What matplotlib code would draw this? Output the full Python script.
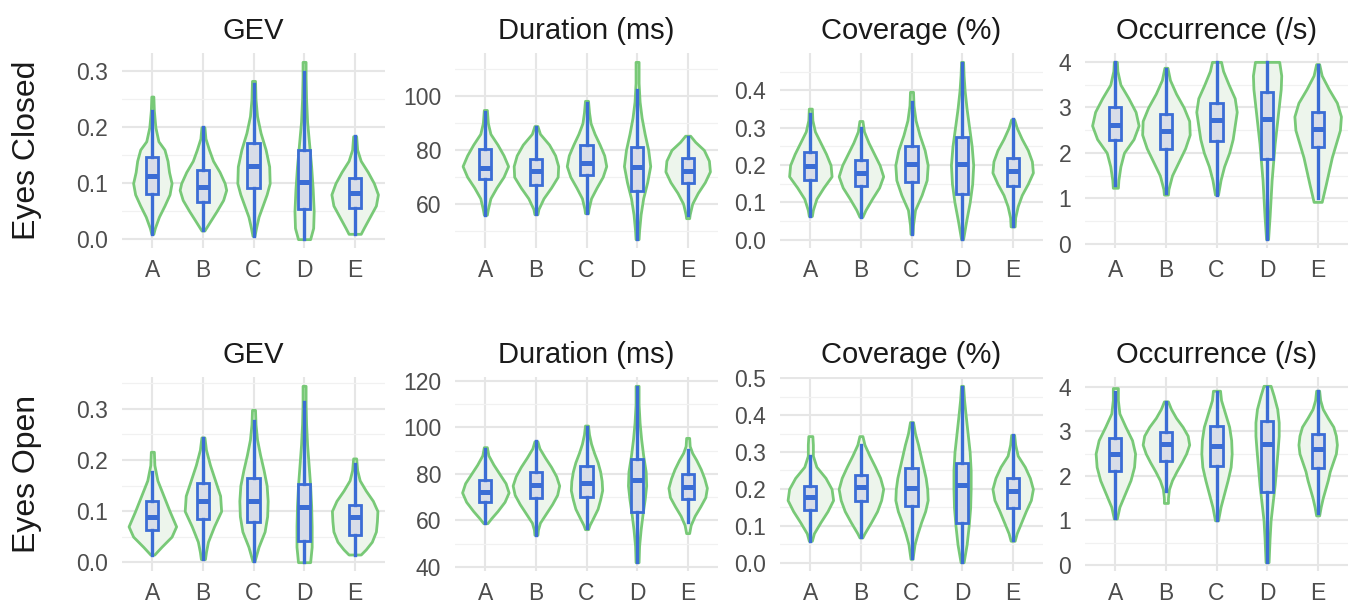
import numpy as np
import matplotlib
matplotlib.use('Agg')
import matplotlib.pyplot as plt
from matplotlib.ticker import MultipleLocator, FormatStrFormatter

plt.rcParams['font.family'] = ['Liberation Sans', 'DejaVu Sans']

categories = ['A', 'B', 'C', 'D', 'E']
row_labels = ['Eyes Closed', 'Eyes Open']
titles = ['GEV', 'Duration (ms)', 'Coverage (%)', 'Occurrence (/s)']

# violin outline: y levels (top -> bottom) and half width at each level
# box: [whisker low, q1, median, q3, whisker high]

# GEV, eyes closed
gev_ec_y = [
    [0.255, 0.23, 0.20, 0.175, 0.16, 0.14, 0.12, 0.10, 0.08, 0.06, 0.04, 0.02, 0.0095],
    [0.200, 0.18, 0.16, 0.14, 0.12, 0.10, 0.088, 0.07, 0.05, 0.03, 0.0155],
    [0.283, 0.25, 0.22, 0.19, 0.16, 0.13, 0.10, 0.08, 0.06, 0.04, 0.02, 0.006],
    [0.317, 0.29, 0.25, 0.21, 0.17, 0.13, 0.09, 0.05, 0.02, 0.0],
    [0.184, 0.16, 0.14, 0.12, 0.10, 0.08, 0.06, 0.04, 0.02, 0.0095],
]
gev_ec_w = [
    [0.02, 0.03, 0.06, 0.12, 0.24, 0.30, 0.33, 0.38, 0.34, 0.24, 0.13, 0.05, 0.02],
    [0.03, 0.05, 0.12, 0.20, 0.33, 0.43, 0.46, 0.40, 0.27, 0.13, 0.03],
    [0.03, 0.04, 0.07, 0.14, 0.24, 0.31, 0.32, 0.26, 0.18, 0.10, 0.05, 0.02],
    [0.03, 0.03, 0.04, 0.06, 0.10, 0.14, 0.17, 0.19, 0.18, 0.12],
    [0.03, 0.05, 0.12, 0.26, 0.38, 0.46, 0.42, 0.30, 0.18, 0.12],
]
gev_ec_box = [
    [0.0095, 0.081, 0.113, 0.146, 0.229],
    [0.0155, 0.067, 0.093, 0.124, 0.200],
    [0.006, 0.091, 0.131, 0.172, 0.278],
    [0.0, 0.0535, 0.103, 0.160, 0.299],
    [0.0095, 0.055, 0.082, 0.109, 0.184],
]

# Duration, eyes closed
dur_ec_y = [
    [94.9, 90, 86, 82, 78, 74, 70, 66, 62, 58, 55.9],
    [88.9, 86, 82, 78, 74, 70, 66, 62, 58, 56.1],
    [98.3, 94, 90, 86, 82, 78, 74, 70, 66, 62, 58, 56.5],
    [112.8, 105, 98, 92, 86, 80, 74, 68, 62, 56, 50, 46.8],
    [85.3, 83, 80, 76, 72, 68, 64, 60, 56, 54.6],
]
dur_ec_w = [
    [0.03, 0.05, 0.10, 0.24, 0.36, 0.45, 0.36, 0.22, 0.10, 0.05, 0.03],
    [0.03, 0.08, 0.26, 0.38, 0.44, 0.43, 0.30, 0.15, 0.05, 0.03],
    [0.03, 0.05, 0.08, 0.16, 0.26, 0.35, 0.39, 0.32, 0.20, 0.09, 0.04, 0.03],
    [0.03, 0.03, 0.05, 0.09, 0.15, 0.22, 0.26, 0.20, 0.12, 0.07, 0.04, 0.03],
    [0.05, 0.15, 0.32, 0.42, 0.44, 0.34, 0.20, 0.09, 0.04, 0.03],
]
dur_ec_box = [
    [55.9, 69.1, 73.4, 80.4, 94.2],
    [56.1, 67.1, 72.2, 76.5, 88.4],
    [56.5, 70.6, 75.3, 81.9, 97.3],
    [46.8, 64.9, 73.8, 81.2, 102.3],
    [55.9, 67.6, 72.2, 76.9, 85.0],
]

# Coverage, eyes closed
cov_ec_y = [
    [0.351, 0.32, 0.29, 0.26, 0.23, 0.20, 0.17, 0.14, 0.11, 0.08, 0.064],
    [0.318, 0.29, 0.26, 0.23, 0.20, 0.17, 0.14, 0.11, 0.08, 0.062],
    [0.396, 0.36, 0.32, 0.28, 0.24, 0.20, 0.16, 0.12, 0.08, 0.04, 0.016],
    [0.476, 0.44, 0.40, 0.35, 0.30, 0.25, 0.20, 0.15, 0.10, 0.05, 0.002],
    [0.322, 0.30, 0.27, 0.24, 0.21, 0.18, 0.15, 0.12, 0.09, 0.06, 0.036],
]
cov_ec_w = [
    [0.03, 0.04, 0.09, 0.20, 0.31, 0.40, 0.42, 0.26, 0.12, 0.05, 0.03],
    [0.03, 0.06, 0.15, 0.26, 0.37, 0.44, 0.36, 0.22, 0.09, 0.03],
    [0.03, 0.04, 0.08, 0.16, 0.26, 0.32, 0.30, 0.20, 0.07, 0.03, 0.02],
    [0.02, 0.03, 0.05, 0.09, 0.14, 0.19, 0.22, 0.20, 0.15, 0.08, 0.02],
    [0.03, 0.08, 0.18, 0.30, 0.38, 0.40, 0.30, 0.18, 0.10, 0.05, 0.04],
]
cov_ec_box = [
    [0.064, 0.160, 0.197, 0.236, 0.336],
    [0.062, 0.145, 0.180, 0.213, 0.298],
    [0.016, 0.156, 0.203, 0.252, 0.369],
    [0.002, 0.124, 0.203, 0.276, 0.473],
    [0.037, 0.144, 0.184, 0.218, 0.322],
]

# Occurrence, eyes closed
occ_ec_y = [
    [4.0, 3.8, 3.5, 3.2, 2.9, 2.6, 2.3, 2.0, 1.7, 1.4, 1.23],
    [3.87, 3.6, 3.3, 3.0, 2.7, 2.4, 2.1, 1.8, 1.5, 1.2, 1.08],
    [4.0, 3.8, 3.5, 3.2, 2.9, 2.6, 2.3, 2.0, 1.7, 1.4, 1.08],
    [4.0, 3.7, 3.4, 3.0, 2.6, 2.2, 1.8, 1.4, 1.0, 0.6, 0.1],
    [3.95, 3.7, 3.4, 3.1, 2.8, 2.5, 2.2, 1.9, 1.6, 1.3, 0.92],
]
occ_ec_w = [
    [0.03, 0.04, 0.10, 0.26, 0.40, 0.46, 0.36, 0.17, 0.10, 0.06, 0.05],
    [0.03, 0.08, 0.20, 0.35, 0.46, 0.47, 0.38, 0.25, 0.12, 0.05, 0.04],
    [0.09, 0.13, 0.24, 0.36, 0.40, 0.36, 0.32, 0.25, 0.15, 0.08, 0.03],
    [0.24, 0.28, 0.27, 0.23, 0.19, 0.15, 0.12, 0.09, 0.07, 0.05, 0.02],
    [0.03, 0.08, 0.22, 0.38, 0.46, 0.44, 0.36, 0.28, 0.22, 0.16, 0.08],
]
occ_ec_box = [
    [1.30, 2.29, 2.62, 3.01, 4.00],
    [1.12, 2.09, 2.48, 2.85, 3.84],
    [1.08, 2.26, 2.72, 3.10, 4.00],
    [0.10, 1.87, 2.75, 3.34, 4.00],
    [1.01, 2.12, 2.53, 2.90, 3.93],
]

# GEV, eyes open
gev_eo_y = [
    [0.216, 0.19, 0.16, 0.13, 0.10, 0.07, 0.05, 0.03, 0.015],
    [0.244, 0.22, 0.19, 0.16, 0.13, 0.10, 0.07, 0.04, 0.02, 0.006],
    [0.298, 0.27, 0.24, 0.21, 0.18, 0.15, 0.12, 0.09, 0.06, 0.03, 0.002],
    [0.345, 0.31, 0.27, 0.23, 0.19, 0.15, 0.11, 0.07, 0.03, 0.0],
    [0.203, 0.18, 0.16, 0.14, 0.12, 0.10, 0.08, 0.06, 0.04, 0.025, 0.015],
]
gev_eo_w = [
    [0.03, 0.04, 0.10, 0.22, 0.34, 0.47, 0.38, 0.18, 0.04],
    [0.03, 0.06, 0.14, 0.24, 0.34, 0.36, 0.22, 0.10, 0.06, 0.04],
    [0.03, 0.04, 0.07, 0.13, 0.20, 0.26, 0.28, 0.27, 0.22, 0.10, 0.02],
    [0.03, 0.03, 0.04, 0.06, 0.09, 0.12, 0.14, 0.15, 0.15, 0.12],
    [0.03, 0.05, 0.10, 0.22, 0.36, 0.45, 0.44, 0.42, 0.34, 0.22, 0.12],
]
gev_eo_box = [
    [0.015, 0.062, 0.089, 0.119, 0.177],
    [0.006, 0.084, 0.119, 0.154, 0.242],
    [0.002, 0.078, 0.119, 0.164, 0.277],
    [0.0, 0.041, 0.108, 0.153, 0.313],
    [0.015, 0.054, 0.088, 0.112, 0.193],
]

# Duration, eyes open
dur_eo_y = [
    [91.5, 88, 84, 80, 76, 72, 68, 64, 61, 58.8],
    [94.0, 91, 87, 83, 79, 75, 71, 67, 63, 59, 56, 53.8],
    [100.8, 97, 93, 89, 85, 81, 77, 73, 69, 65, 61, 58, 56.2],
    [117.9, 110, 102, 95, 88, 81, 75, 69, 63, 56, 49, 42],
    [95.5, 92, 89, 86, 82, 78, 74, 70, 66, 62, 58, 54.5],
]
dur_eo_w = [
    [0.03, 0.06, 0.16, 0.28, 0.40, 0.46, 0.38, 0.24, 0.12, 0.04],
    [0.03, 0.07, 0.18, 0.30, 0.40, 0.46, 0.42, 0.32, 0.20, 0.08, 0.04, 0.03],
    [0.03, 0.05, 0.09, 0.15, 0.22, 0.27, 0.30, 0.31, 0.27, 0.22, 0.13, 0.06, 0.03],
    [0.03, 0.03, 0.05, 0.08, 0.12, 0.17, 0.18, 0.15, 0.11, 0.07, 0.04, 0.03],
    [0.03, 0.04, 0.09, 0.17, 0.26, 0.33, 0.38, 0.35, 0.25, 0.14, 0.06, 0.03],
]
dur_eo_box = [
    [58.8, 68.0, 72.3, 77.3, 90.8],
    [53.8, 69.5, 75.4, 80.9, 94.0],
    [56.7, 69.9, 75.9, 83.3, 100.1],
    [42.0, 63.8, 77.3, 86.4, 117.4],
    [59.2, 69.0, 74.2, 79.9, 90.1],
]

# Coverage, eyes open
cov_eo_y = [
    [0.343, 0.32, 0.29, 0.26, 0.23, 0.20, 0.17, 0.14, 0.11, 0.08, 0.06],
    [0.343, 0.32, 0.29, 0.26, 0.23, 0.20, 0.17, 0.14, 0.11, 0.08, 0.069],
    [0.381, 0.35, 0.32, 0.29, 0.26, 0.23, 0.20, 0.17, 0.14, 0.11, 0.08, 0.05, 0.011],
    [0.479, 0.44, 0.40, 0.35, 0.30, 0.25, 0.20, 0.15, 0.10, 0.05, 0.002],
    [0.346, 0.32, 0.29, 0.26, 0.23, 0.20, 0.17, 0.14, 0.11, 0.08, 0.06],
]
cov_eo_w = [
    [0.04, 0.05, 0.05, 0.12, 0.30, 0.42, 0.45, 0.34, 0.20, 0.07, 0.03],
    [0.03, 0.07, 0.17, 0.28, 0.38, 0.44, 0.40, 0.32, 0.20, 0.07, 0.03],
    [0.03, 0.07, 0.13, 0.18, 0.23, 0.28, 0.31, 0.32, 0.27, 0.19, 0.12, 0.06, 0.02],
    [0.02, 0.04, 0.07, 0.11, 0.15, 0.17, 0.17, 0.16, 0.13, 0.09, 0.03],
    [0.03, 0.05, 0.10, 0.24, 0.34, 0.40, 0.36, 0.26, 0.17, 0.08, 0.04],
]
cov_eo_box = [
    [0.060, 0.143, 0.179, 0.209, 0.289],
    [0.069, 0.167, 0.204, 0.238, 0.319],
    [0.013, 0.155, 0.203, 0.256, 0.379],
    [0.002, 0.107, 0.212, 0.270, 0.477],
    [0.062, 0.149, 0.194, 0.229, 0.346],
]

# Occurrence, eyes open
occ_eo_y = [
    [3.97, 3.7, 3.4, 3.1, 2.8, 2.5, 2.2, 1.9, 1.6, 1.3, 1.04],
    [3.67, 3.5, 3.3, 3.1, 2.9, 2.7, 2.5, 2.3, 2.1, 1.9, 1.7, 1.5, 1.39],
    [3.91, 3.7, 3.4, 3.1, 2.8, 2.5, 2.2, 1.9, 1.6, 1.3, 1.0],
    [4.02, 3.8, 3.5, 3.2, 2.9, 2.6, 2.2, 1.8, 1.4, 1.0, 0.6, 0.06],
    [3.91, 3.7, 3.5, 3.3, 3.1, 2.9, 2.7, 2.5, 2.3, 2.1, 1.9, 1.7, 1.5, 1.3, 1.11],
]
occ_eo_w = [
    [0.05, 0.05, 0.08, 0.20, 0.33, 0.39, 0.37, 0.30, 0.19, 0.08, 0.03],
    [0.04, 0.10, 0.20, 0.33, 0.43, 0.46, 0.40, 0.31, 0.21, 0.12, 0.06, 0.04, 0.04],
    [0.07, 0.09, 0.17, 0.25, 0.29, 0.30, 0.28, 0.22, 0.15, 0.08, 0.03],
    [0.07, 0.13, 0.20, 0.23, 0.23, 0.21, 0.18, 0.15, 0.11, 0.07, 0.05, 0.03],
    [0.03, 0.05, 0.10, 0.20, 0.31, 0.36, 0.38, 0.36, 0.30, 0.24, 0.20, 0.15, 0.10, 0.06, 0.03],
]
occ_eo_box = [
    [1.06, 2.10, 2.50, 2.84, 3.87],
    [1.65, 2.34, 2.71, 2.99, 3.65],
    [1.00, 2.21, 2.67, 3.11, 3.89],
    [0.07, 1.63, 2.71, 3.24, 4.00],
    [1.17, 2.17, 2.60, 2.93, 3.91],
]

GREEN = '#78c977'
GREEN_FILL = '#edf5ec'
BLUE = '#3b6dd5'
BOX_FILL = '#d8dde8'
GRID = '#e6e6e6'
TEXT_GREY = '#4d4d4d'


def draw_panel(ax, ys, ws, boxes, title, step, fmt):
    pos = np.arange(1, len(categories) + 1)
    vstats = []
    for y, w, b in zip(ys, ws, boxes):
        vstats.append({'coords': np.array(y), 'vals': np.array(w),
                       'mean': b[2], 'median': b[2],
                       'min': min(y), 'max': max(y)})
    widths = [2 * max(w) for w in ws]
    parts = ax.violin(vstats, positions=pos, widths=widths,
                      showmeans=False, showextrema=False, showmedians=False)
    for body in parts['bodies']:
        body.set_facecolor(GREEN_FILL)
        body.set_edgecolor(GREEN)
        body.set_alpha(1)
        body.set_linewidth(2.0)
        body.set_joinstyle('round')
        body.set_zorder(2)

    bstats = [{'whislo': b[0], 'q1': b[1], 'med': b[2], 'q3': b[3],
               'whishi': b[4], 'fliers': []} for b in boxes]
    ax.bxp(bstats, positions=pos, widths=0.24, showfliers=False,
           showcaps=False, patch_artist=True, manage_ticks=False,
           boxprops=dict(facecolor=BOX_FILL, edgecolor=BLUE, linewidth=2.0),
           whiskerprops=dict(color=BLUE, linewidth=2.4),
           medianprops=dict(color=BLUE, linewidth=3.6, solid_capstyle='butt'),
           zorder=3)

    ax.set_xlim(0.4, 5.6)
    ax.margins(y=0.05)
    ax.autoscale_view(scalex=False)
    ax.set_xticks(pos)
    ax.set_xticklabels(categories)
    ax.yaxis.set_major_locator(MultipleLocator(step))
    ax.yaxis.set_minor_locator(MultipleLocator(step / 2))
    ax.yaxis.set_major_formatter(FormatStrFormatter(fmt))

    ax.grid(True, which='major', color=GRID, linewidth=1.5)
    ax.grid(True, which='minor', axis='y', color='#f1f1f1', linewidth=0.9)
    ax.set_axisbelow(True)
    for s in ax.spines.values():
        s.set_visible(False)
    ax.tick_params(which='both', length=0, labelsize=16.5, labelcolor=TEXT_GREY)
    ax.tick_params(axis='x', pad=8)
    ax.tick_params(axis='y', pad=10)
    ax.set_title(title, fontsize=21, pad=10, color='#1a1a1a')


fig = plt.figure(figsize=(13.49, 6.06), dpi=100)

W, H = 1349.0, 606.0
lefts = [122, 455, 780, 1085]
panel_w = 263
rows_px = [(53, 248), (377, 571)]

panels = [
    [(gev_ec_y, gev_ec_w, gev_ec_box, 0.1, '%.1f'),
     (dur_ec_y, dur_ec_w, dur_ec_box, 20, '%d'),
     (cov_ec_y, cov_ec_w, cov_ec_box, 0.1, '%.1f'),
     (occ_ec_y, occ_ec_w, occ_ec_box, 1, '%d')],
    [(gev_eo_y, gev_eo_w, gev_eo_box, 0.1, '%.1f'),
     (dur_eo_y, dur_eo_w, dur_eo_box, 20, '%d'),
     (cov_eo_y, cov_eo_w, cov_eo_box, 0.1, '%.1f'),
     (occ_eo_y, occ_eo_w, occ_eo_box, 1, '%d')],
]

for r, (top, bot) in enumerate(rows_px):
    for c, left in enumerate(lefts):
        ax = fig.add_axes([left / W, 1 - bot / H, panel_w / W, (bot - top) / H])
        ys, ws, boxes, step, fmt = panels[r][c]
        draw_panel(ax, ys, ws, boxes, titles[c], step, fmt)
    fig.text(27 / W, 1 - (top + bot) / 2 / H, row_labels[r], rotation=90,
             ha='center', va='center', fontsize=23, color='#1a1a1a')

fig.savefig('out.png', dpi=100)
